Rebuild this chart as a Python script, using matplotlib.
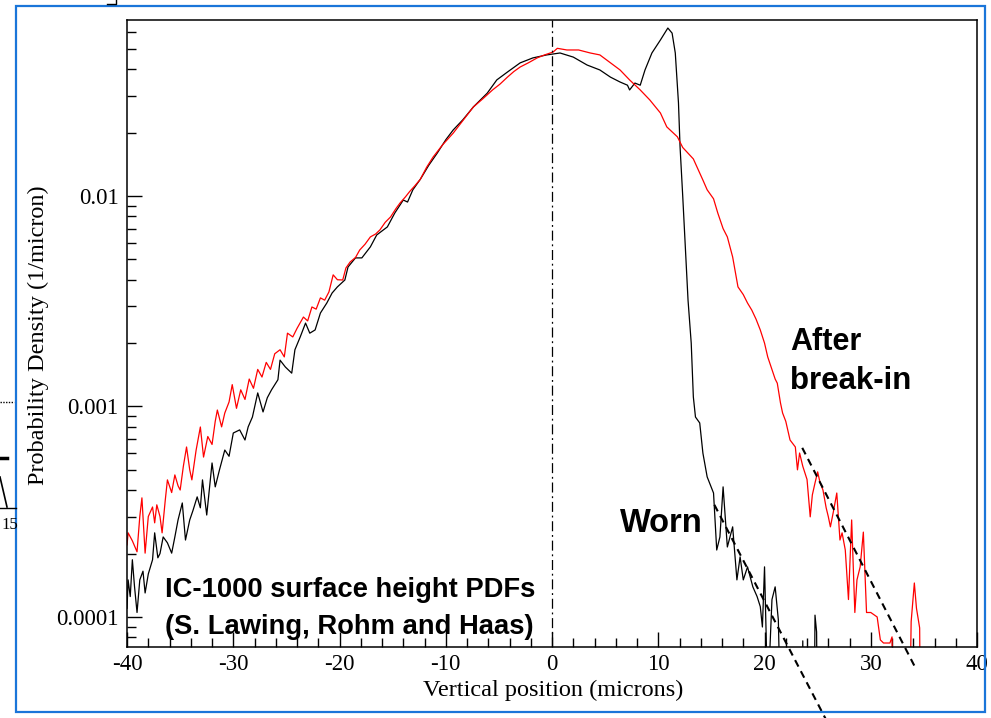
import matplotlib
matplotlib.use('Agg')
import matplotlib.pyplot as plt
from matplotlib.ticker import MultipleLocator, LogLocator, NullFormatter
from matplotlib.patches import Rectangle
from matplotlib.lines import Line2D

# IC-1000 pad surface height PDFs (probability density, 1/micron)
worn_x = [
    -40.0, -39.9, -39.7, -39.5, -39.3, -39.06, -38.8, -38.5, -38.3, -38.0,
    -37.6, -37.4, -37.1, -36.9, -36.6, -36.2, -35.8, -35.5, -35.2, -34.8,
    -34.5, -34.1, -33.8, -33.4, -33.1, -32.9, -32.5, -32.0, -31.7, -31.3,
    -30.8, -30.4, -30.0, -29.4, -28.9, -28.6, -28.2, -27.7, -27.2, -26.8,
    -26.4, -25.8, -25.6, -25.1, -24.5, -24.2, -23.7, -23.2, -22.8, -22.3,
    -21.8, -21.2, -20.7, -20.2, -19.5, -19.2, -18.5, -17.9, -17.1, -16.5,
    -15.5, -14.8, -14.0, -13.6, -13.1, -12.4, -11.6, -10.8, -10.0, -9.3,
    -8.4, -7.4, -6.1, -5.2, -4.2, -3.0, -1.8, -0.5, 0.75, 2.0,
    3.3, 4.5, 5.5, 6.4, 7.1, 7.3, 7.8, 8.3, 8.75, 9.4,
    10.2, 10.9, 11.3, 11.6, 11.9, 12.05, 12.3, 12.5, 12.8, 13.1,
    13.3, 13.5, 13.9, 14.2, 14.6, 15.2, 15.5, 15.8, 16.1, 16.5,
    17.0, 17.4, 17.7, 18.0, 18.4, 18.9, 19.3, 19.6, 19.8, 20.0,
    20.3, 20.7, 21.0, 21.3, 21.6, 23.5, 23.6, 23.7, 24.65, 24.75,
    24.9, 25.0,
]
worn_y = [
    0.000110, 0.000150, 0.000125, 0.000187, 0.000140, 0.000105, 0.000150, 0.000165, 0.000130, 0.000160,
    0.000187, 0.000251, 0.000191, 0.000200, 0.000240, 0.000225, 0.000201, 0.000240, 0.000289, 0.000348,
    0.000232, 0.000289, 0.000320, 0.000372, 0.000330, 0.000448, 0.000305, 0.000539, 0.000415, 0.000500,
    0.000621, 0.000580, 0.000748, 0.000774, 0.000693, 0.000800, 0.000891, 0.00116, 0.000942, 0.00110,
    0.00120, 0.00134, 0.00166, 0.00154, 0.00144, 0.00186, 0.00214, 0.00249, 0.00223, 0.00231,
    0.00278, 0.00310, 0.00346, 0.00370, 0.00399, 0.00460, 0.00508, 0.00508, 0.00573, 0.00653,
    0.00713, 0.00830, 0.00957, 0.00936, 0.0107, 0.0120, 0.0140, 0.0160, 0.0185, 0.0206,
    0.0230, 0.0265, 0.0308, 0.0356, 0.0388, 0.0429, 0.0453, 0.0468, 0.0478, 0.0457,
    0.0419, 0.0397, 0.0367, 0.0348, 0.0336, 0.0319, 0.0344, 0.0336, 0.0397, 0.0478,
    0.0551, 0.0628, 0.0594, 0.0478, 0.0277, 0.0171, 0.0100, 0.00630, 0.00320, 0.00200,
    0.00111, 0.000891, 0.000835, 0.000600, 0.000463, 0.000388, 0.000208, 0.000240, 0.000415, 0.000215,
    0.000268, 0.000150, 0.000193, 0.000150, 0.000173, 0.000139, 0.000125, 0.000112, 0.0000896, 0.000173,
    0.00004, 0.000121, 0.000139, 0.0000968, 0.00002, 0.00002, 0.000077, 0.00002, 0.00002, 0.000102,
    0.0000849, 0.00002,
]

breakin_x = [
    -40.0, -39.9, -39.5, -39.06, -38.8, -38.6, -38.3, -38.0, -37.6, -37.4,
    -37.2, -36.9, -36.7, -36.4, -36.2, -35.8, -35.5, -35.2, -35.0, -34.7,
    -34.4, -34.1, -33.9, -33.5, -33.1, -32.8, -32.4, -32.0, -31.7, -31.5,
    -31.1, -30.8, -30.4, -30.1, -29.7, -29.3, -28.9, -28.5, -28.1, -27.7,
    -27.3, -26.9, -26.5, -26.1, -25.6, -25.2, -24.9, -24.4, -24.0, -23.4,
    -23.0, -22.6, -22.2, -21.8, -21.4, -21.0, -20.6, -20.2, -19.7, -19.4,
    -19.0, -18.5, -18.1, -17.6, -17.1, -16.6, -16.2, -15.7, -15.2, -14.7,
    -14.3, -13.8, -13.4, -12.9, -12.4, -11.8, -11.2, -10.3, -9.3, -8.4,
    -7.4, -6.5, -5.6, -4.9, -4.2, -3.6, -3.0, -2.2, -1.4, -0.7,
    0.1, 0.5, 1.4, 2.5, 3.6, 4.5, 5.5, 6.4, 7.3, 8.3,
    9.2, 10.2, 10.8, 11.8, 12.3, 13.3, 14.2, 14.6, 15.2, 15.6,
    16.1, 16.5, 17.0, 17.3, 17.5, 18.0, 18.4, 18.8, 19.2, 19.6,
    20.0, 20.3, 20.7, 21.0, 21.2, 21.5, 21.7, 22.0, 22.4, 22.9,
    23.1, 23.3, 23.6, 23.8, 24.0, 24.3, 24.5, 24.75, 25.0, 25.2,
    25.5, 25.8, 26.0, 26.2, 26.5, 26.8, 27.1, 27.3, 27.6, 27.9,
    28.2, 28.5, 28.7, 29.0, 29.3, 29.6, 30.0, 30.6, 30.9, 31.2,
    31.5, 31.8, 32.0, 32.2, 33.6, 33.8, 34.1, 34.3, 34.5, 34.6,
    34.7,
]
breakin_y = [
    0.000220, 0.000251, 0.000230, 0.000204, 0.000300, 0.000368, 0.000201, 0.000300, 0.000333, 0.000280,
    0.000341, 0.000300, 0.000251, 0.000360, 0.000448, 0.000390, 0.000473, 0.000420, 0.000401, 0.000520,
    0.000642, 0.000500, 0.000448, 0.000620, 0.000799, 0.000575, 0.000720, 0.000660, 0.000850, 0.000962,
    0.000800, 0.000931, 0.00105, 0.00127, 0.000980, 0.00120, 0.00108, 0.00135, 0.00122, 0.00150,
    0.00138, 0.00162, 0.00150, 0.00178, 0.00186, 0.00172, 0.00223, 0.00214, 0.00235, 0.00266,
    0.00255, 0.00297, 0.00290, 0.00328, 0.00320, 0.00350, 0.00422, 0.00400, 0.00399, 0.00455,
    0.00486, 0.00510, 0.00554, 0.00590, 0.00639, 0.00660, 0.00690, 0.00750, 0.00795, 0.00870,
    0.00927, 0.00990, 0.0105, 0.0112, 0.0120, 0.0137, 0.0153, 0.0175, 0.0199, 0.0228,
    0.0265, 0.0290, 0.0319, 0.0340, 0.0367, 0.0390, 0.0410, 0.0430, 0.0453, 0.0468,
    0.0483, 0.0503, 0.0494, 0.0494, 0.0478, 0.0468, 0.0429, 0.0397, 0.0356, 0.0319,
    0.0286, 0.0248, 0.0213, 0.0191, 0.0170, 0.0150, 0.0119, 0.0107, 0.00970, 0.00830,
    0.00700, 0.00639, 0.00513, 0.00420, 0.00370, 0.00340, 0.00310, 0.00287, 0.00260, 0.00231,
    0.00200, 0.00172, 0.00150, 0.00135, 0.00129, 0.00104, 0.000931, 0.000850, 0.000693, 0.000642,
    0.000500, 0.000601, 0.000520, 0.000483, 0.000450, 0.000299, 0.000380, 0.000433, 0.000489, 0.000440,
    0.000401, 0.000330, 0.000300, 0.000268, 0.000320, 0.000388, 0.000232, 0.000251, 0.000208, 0.000121,
    0.000289, 0.000105, 0.000150, 0.000173, 0.000253, 0.000105, 0.000105, 0.000100, 0.0000778, 0.0000752,
    0.0000752, 0.0000752, 0.0000804, 0.00002, 0.00002, 0.000095, 0.000145, 0.000110, 0.000095, 0.0000887,
    0.00002,
]

# exponential tail fits (end points)
worn_fit_x = [15.28, 25.75]
worn_fit_y = [3.41e-4, 3.28e-5]
breakin_fit_x = [23.55, 34.25]
breakin_fit_y = [6.36e-4, 5.67e-5]

xticks = [-40, -30, -20, -10, 0, 10, 20, 30, 40]
yticks = [1e-4, 1e-3, 1e-2]
ytick_labels = ['0.0001', '0.001', '0.01']

plt.rcParams['font.family'] = ['Liberation Serif', 'DejaVu Serif']
plt.rcParams['axes.unicode_minus'] = False

fig = plt.figure(figsize=(9.91, 7.18), dpi=100)
ax = fig.add_axes([0.1282, 0.0989, 0.8577, 0.8733])

ax.plot(worn_x, worn_y, color='black', lw=0.9)
ax.plot(breakin_x, breakin_y, color='red', lw=0.9)
ax.axvline(0, color='black', lw=0.9, linestyle=(0, (8, 3, 1.5, 3)))

ax.plot(breakin_fit_x, breakin_fit_y, color='black', lw=1.5,
        linestyle=(0, (3.5, 2.5)), clip_on=False)
ax.plot(worn_fit_x, worn_fit_y, color='black', lw=1.5,
        linestyle=(0, (3.5, 2.5)), clip_on=False)

ax.set_yscale('log')
ax.set_xlim(-40, 40)
ax.set_ylim(7.2e-5, 0.0686)

ax.set_xticks(xticks)
ax.xaxis.set_minor_locator(MultipleLocator(2))
ax.set_yticks(yticks)
ax.set_yticklabels(ytick_labels)
ax.yaxis.set_minor_locator(LogLocator(base=10, subs=range(2, 10)))
ax.yaxis.set_minor_formatter(NullFormatter())

ax.tick_params(which='both', direction='in', top=False, right=False,
               width=1.0, labelsize=16.5, color='black')
ax.tick_params(which='major', length=11)
ax.tick_params(which='minor', length=6.5)
ax.tick_params(axis='x', pad=5)
ax.tick_params(axis='y', pad=6)
for s in ax.spines.values():
    s.set_linewidth(1.1)

ax.set_xlabel('Vertical position (microns)', fontsize=17.5)
ax.set_ylabel('Probability Density (1/micron)', fontsize=17.5)
ax.xaxis.set_label_coords(0.501, -0.052)
ax.yaxis.set_label_coords(-0.092, 0.498)

bold = dict(family=['Liberation Sans', 'DejaVu Sans'], fontweight='bold', color='black')
ax.text(-36.4, 1.34e-4, 'IC-1000 surface height PDFs', fontsize=19.7, va='center', **bold)
ax.text(-36.4, 8.95e-5, '(S. Lawing, Rohm and Haas)', fontsize=19.7, va='center', **bold)
ax.text(22.4, 2.02e-3, 'After', fontsize=22, va='center', **bold)
ax.text(22.4, 1.32e-3, 'break-in', fontsize=22.5, va='center', **bold)
ax.text(6.4, 2.77e-4, 'Worn', fontsize=23.5, va='center', **bold)

# slide frame and bits of the neighbouring figure
W, H = 991.0, 718.0
fig.patches.append(Rectangle((16 / W, 1 - 712 / H), (985 - 16) / W, (712 - 6) / H,
                             transform=fig.transFigure, fill=False,
                             edgecolor='#1a75d9', lw=1.6))
fig.lines.append(Line2D([0, 16 / W], [1 - 508 / H] * 2, transform=fig.transFigure,
                        color='black', lw=1.0))
fig.lines.append(Line2D([0, 14 / W], [1 - 402 / H] * 2, transform=fig.transFigure,
                        color='black', lw=1.0, linestyle=(0, (1, 1))))
fig.lines.append(Line2D([0, 7 / W], [1 - 458 / H] * 2, transform=fig.transFigure,
                        color='black', lw=2.5))
fig.lines.append(Line2D([0, 7 / W], [1 - 477 / H, 1 - 507 / H], transform=fig.transFigure,
                        color='black', lw=1.2))
fig.lines.append(Line2D([107 / W, 116 / W, 116 / W], [1 - 4 / H, 1 - 4 / H, 1.0],
                        transform=fig.transFigure, color='black', lw=1.0))
fig.text(1 / W, 1 - 525 / H, '15', ha='left', va='center', fontsize=12)

fig.savefig('out.png', dpi=100)
